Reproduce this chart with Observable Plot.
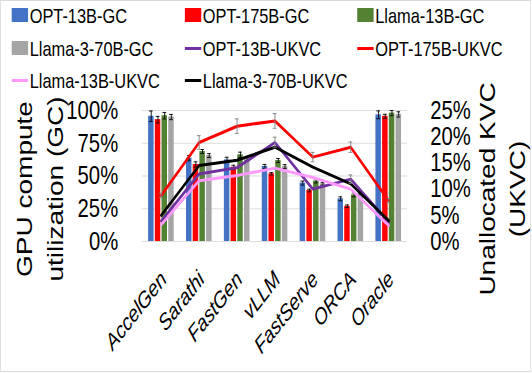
<!DOCTYPE html>
<html>
<head>
<meta charset="utf-8">
<script src="https://cdn.jsdelivr.net/npm/d3@7"></script>
<script src="https://cdn.jsdelivr.net/npm/@observablehq/plot@0.6"></script>
<style>
  html, body { margin:0; padding:0; background:#fff; overflow:hidden; }
  #wrap { position:relative; width:682px; height:374px; transform:scaleX(0.78); transform-origin:0 0;
          font-family:"Liberation Sans", Arial, sans-serif; color:#000; }
  #legend { position:relative; height:95px; }
  .item { position:absolute; display:flex; align-items:center; font-size:21px; white-space:nowrap; line-height:1; }
  .sw { display:inline-block; width:21px; height:14px; margin-right:2px; }
  .ln { display:inline-block; width:21px; height:3px; margin-right:2px; }
  .ttl { position:absolute; font-size:28px; white-space:nowrap; transform:translate(-50%,-50%) rotate(-90deg); line-height:1; }
  #border { position:absolute; left:0; top:0; width:679px; height:370px; border:1px solid #d9d9d9; pointer-events:none; }
</style>
</head>
<body>
<div id="wrap">
  <div id="legend"></div>
  <div id="chart"></div>
  <div id="border"></div>
</div>
<script>
// ---- data ----
const categories = ["AccelGen", "Sarathi", "FastGen", "vLLM", "FastServe", "ORCA", "Oracle"];

const gcSeries = ["OPT-13B-GC", "OPT-175B-GC", "Llama-13B-GC", "Llama-3-70B-GC"];
const gcColors = ["#4472C4", "#FF0000", "#548235", "#A5A5A5"];
const opt13bGC    = [95.6, 63.6, 62.3, 57.3, 44.6, 32.6, 96.7];
const opt175bGC   = [93.0, 58.8, 56.7, 51.7, 38.9, 26.9, 95.6];
const llama13bGC  = [96.0, 68.7, 66.2, 61.8, 46.2, 35.6, 98.0];
const llama70bGC  = [95.0, 65.6, 63.0, 57.2, 44.0, 37.2, 97.0];
const opt13bGCErr   = [4.0, 2.0, 2.0, 1.5, 1.5, 1.5, 3.0];
const opt175bGCErr  = [2.5, 2.0, 1.5, 1.0, 1.0, 1.0, 1.5];
const llama13bGCErr = [2.5, 1.5, 2.0, 1.5, 1.5, 1.5, 2.0];
const llama70bGCErr = [2.0, 1.5, 1.5, 1.5, 1.0, 1.0, 2.0];

const ukvcSeries = ["OPT-13B-UKVC", "OPT-175B-UKVC", "Llama-13B-UKVC", "Llama-3-70B-UKVC"];
const ukvcColors = ["#7030A0", "#FF0000", "#FF99FF", "#000000"];
const opt13bUKVC   = [3.9, 12.9, 14.1, 18.9, 10.0, 11.9, 3.7];
const opt175bUKVC  = [8.8, 18.9, 22.0, 23.0, 16.1, 18.0, 7.8];
const llama13bUKVC = [3.2, 11.6, 12.6, 14.0, 12.2, 10.0, 3.05];
const llama70bUKVC = [5.0, 14.5, 15.5, 18.0, 14.2, 11.0, 4.0];
const opt13bUKVCErr   = [0, 0, 0, 1.0, 0, 0.8, 0];
const opt175bUKVCErr  = [0.4, 1.3, 1.4, 1.4, 0.9, 1.0, 0.4];
const llama13bUKVCErr = [0, 0, 0, 0, 0, 0, 0];
const llama70bUKVCErr = [0, 0, 0, 0, 0, 0, 0];

const gcTicks = [0, 25, 50, 75, 100];
const ukvcTicks = [0, 5, 10, 15, 20, 25];
const gcMax = 100, ukvcMax = 25;
const k = gcMax / ukvcMax;

// ---- tables ----
const gcValues = [opt13bGC, opt175bGC, llama13bGC, llama70bGC];
const gcErrs = [opt13bGCErr, opt175bGCErr, llama13bGCErr, llama70bGCErr];
const ukvcValues = [opt13bUKVC, opt175bUKVC, llama13bUKVC, llama70bUKVC];
const ukvcErrs = [opt13bUKVCErr, opt175bUKVCErr, llama13bUKVCErr, llama70bUKVCErr];

const step = 0.177, half = 0.0725, cap = 0.05;
const bars = [];
gcSeries.forEach((s, si) => categories.forEach((c, i) => {
  const xc = i + (si - 1.5) * step;
  bars.push({s, si, i, xc, v: gcValues[si][i], e: gcErrs[si][i]});
}));
const pts = [];
ukvcSeries.forEach((s, si) => categories.forEach((c, i) => {
  pts.push({s, si, i, v: ukvcValues[si][i] * k, e: ukvcErrs[si][i] * k});
}));
const ptsErr = pts.filter(d => d.e > 0);

// ---- legend ----
const legendItems = [
  ...gcSeries.map((s, i) => ({label: s, color: gcColors[i], type: "bar"})),
  ...ukvcSeries.map((s, i) => ({label: s, color: ukvcColors[i], type: "line"}))
];
const colX = [15, 237, 458], rowY = [15, 48, 80];
const leg = document.getElementById("legend");
legendItems.forEach((d, idx) => {
  const el = document.createElement("div");
  el.className = "item";
  el.style.left = colX[idx % 3] + "px";
  el.style.top = (rowY[Math.floor(idx / 3)] - 10) + "px";
  el.style.height = "20px";
  const sw = document.createElement("span");
  sw.className = d.type === "bar" ? "sw" : "ln";
  sw.style.background = d.color;
  el.appendChild(sw);
  el.appendChild(document.createTextNode(d.label));
  leg.appendChild(el);
});

// ---- titles ----
const wrap = document.getElementById("wrap");
function title(text, cx, cy) {
  const t = document.createElement("div");
  t.className = "ttl";
  t.textContent = text;
  t.style.left = cx + "px";
  t.style.top = cy + "px";
  wrap.appendChild(t);
}
title("GPU compute", 32, 189);
title("utilization (GC)", 72, 189);
title("Unallocated KVC", 626, 189);
title("(UKVC)", 664, 189);

// ---- plot ----
const chart = Plot.plot({
  width: 682,
  height: 279,
  marginTop: 15,
  marginBottom: 133,
  marginLeft: 182,
  marginRight: 160,
  style: {fontFamily: "'Liberation Sans', Arial, sans-serif", fontSize: "26px", color: "#000", background: "transparent", overflow: "visible"},
  x: {type: "linear", domain: [-0.5, categories.length - 0.5], axis: null},
  y: {domain: [0, gcMax], axis: null},
  marks: [
    Plot.ruleY(gcTicks, {stroke: "#d9d9d9", strokeWidth: 1}),
    Plot.rect(bars, {x1: d => d.xc - half, x2: d => d.xc + half, y1: 0, y2: "v", fill: d => gcColors[d.si]}),
    Plot.ruleX(bars, {x: "xc", y1: d => d.v - d.e, y2: d => d.v + d.e, stroke: "#000", strokeWidth: 1}),
    Plot.ruleY(bars, {y: d => d.v + d.e, x1: d => d.xc - cap, x2: d => d.xc + cap, stroke: "#000", strokeWidth: 1}),
    Plot.ruleY(bars, {y: d => d.v - d.e, x1: d => d.xc - cap, x2: d => d.xc + cap, stroke: "#000", strokeWidth: 1}),
    ...ukvcSeries.map((s, si) => Plot.line(pts.filter(d => d.si === si), {x: "i", y: "v", stroke: ukvcColors[si], strokeWidth: 3})),
    Plot.ruleX(ptsErr, {x: "i", y1: d => d.v - d.e, y2: d => d.v + d.e, stroke: "#7f7f7f", strokeWidth: 1}),
    Plot.ruleY(ptsErr, {y: d => d.v + d.e, x1: d => d.i - cap, x2: d => d.i + cap, stroke: "#7f7f7f", strokeWidth: 1}),
    Plot.ruleY(ptsErr, {y: d => d.v - d.e, x1: d => d.i - cap, x2: d => d.i + cap, stroke: "#7f7f7f", strokeWidth: 1}),
    Plot.axisY(gcTicks, {anchor: "left", tickSize: 0, tickPadding: 31, tickFormat: d => d + "%", label: null}),
    Plot.axisY(ukvcTicks.map(t => t * k), {anchor: "right", tickSize: 0, tickPadding: 29, tickFormat: d => (d / k) + "%", label: null}),
    Plot.text(categories, {x: (d, i) => i, y: () => 0, text: d => d, rotate: -45, textAnchor: "end",
      fontStyle: "italic", fontSize: 23, dx: 3, dy: 34, fill: "#000"})
  ]
});
document.getElementById("chart").appendChild(chart);
</script>
</body>
</html>
